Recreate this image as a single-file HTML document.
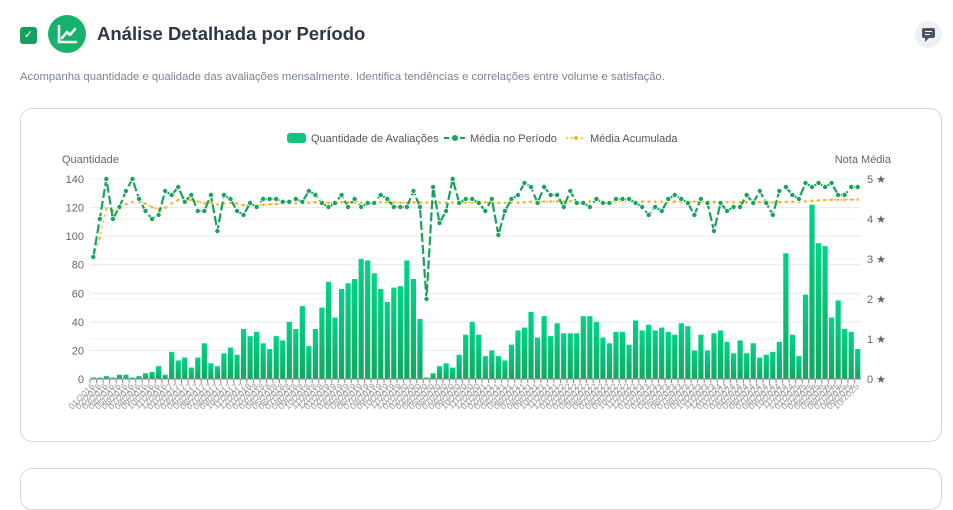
<!DOCTYPE html>
<html><head><meta charset="utf-8">
<style>
body{margin:0;width:953px;height:481px;overflow:hidden;background:#fff;font-family:"Liberation Sans",sans-serif;position:relative}
.abs{position:absolute}
</style></head><body>
<div class="abs" style="left:20px;top:27px;width:17px;height:17px;background:#15a05e;border-radius:3px;color:#fff;font-size:11px;text-align:center;line-height:17px">✓</div>
<div class="abs" style="left:48px;top:15px;width:38px;height:38px;border-radius:50%;background:#17b36c">
<svg width="38" height="38" viewBox="0 0 38 38"><path d="M11 11 V27 H28" stroke="#fff" stroke-width="2.5" fill="none" stroke-linecap="round"/><path d="M14 23 L19 17 L22 20 L27 14" stroke="#fff" stroke-width="2.5" fill="none" stroke-linecap="round" stroke-linejoin="round"/></svg></div>
<div class="abs" style="left:97px;top:23px;font-size:18.5px;font-weight:bold;color:#2d3748">Análise Detalhada por Período</div>
<div class="abs" style="left:915px;top:21px;width:27px;height:27px;border-radius:50%;background:#eef0f3">
<svg width="27" height="27"><rect x="7" y="7" width="13" height="10" rx="2" fill="#4a5568"/><path d="M10 17 L10 21 L14 17Z" fill="#4a5568"/><line x1="10" y1="10.5" x2="17" y2="10.5" stroke="#fff"/><line x1="10" y1="13.5" x2="15" y2="13.5" stroke="#fff"/></svg></div>
<div class="abs" style="left:20px;top:71px;font-size:11.3px;color:#7a8494">Acompanha quantidade e qualidade das avaliações mensalmente. Identifica tendências e correlações entre volume e satisfação.</div>
<div class="abs" style="left:20px;top:108px;width:920px;height:332px;border:1px solid #d4d8de;border-radius:12px"></div>
<div class="abs" style="left:20px;top:468px;width:920px;height:40px;border:1px solid #d4d8de;border-radius:12px"></div>
<svg id="chart" class="abs" style="left:0;top:0" width="953" height="481"></svg>
<script>
const counts=[1,1,2,1,3,3,1,2,4,5,9,3,19,13,15,8,15,25,11,9,18,22,17,35,30,33,25,21,30,27,40,35,51,23,35,50,68,43,63,67,70,84,83,74,63,54,64,65,83,70,42,1,4,9,11,8,17,31,40,31,16,20,16,13,24,34,36,47,29,44,30,39,32,32,32,44,44,40,29,25,33,33,24,41,34,38,34,36,33,31,39,37,20,31,20,32,34,26,18,27,18,25,15,17,19,26,88,31,16,59,122,95,93,43,55,35,33,21];
const ratings=[3.05,4.0,5.0,4.0,4.3,4.7,5.0,4.5,4.2,4.0,4.1,4.7,4.6,4.8,4.43,4.6,4.2,4.2,4.6,3.7,4.6,4.5,4.2,4.1,4.4,4.3,4.5,4.5,4.5,4.43,4.43,4.5,4.43,4.7,4.6,4.4,4.3,4.4,4.6,4.3,4.5,4.3,4.4,4.4,4.6,4.5,4.3,4.3,4.3,4.7,4.3,2.0,4.8,3.9,4.2,5.0,4.4,4.5,4.5,4.4,4.2,4.5,3.6,4.2,4.5,4.6,4.9,4.8,4.4,4.8,4.6,4.6,4.3,4.7,4.4,4.4,4.3,4.5,4.4,4.4,4.5,4.5,4.5,4.4,4.3,4.1,4.3,4.2,4.5,4.6,4.5,4.4,4.1,4.5,4.4,3.7,4.4,4.2,4.3,4.3,4.6,4.4,4.7,4.4,4.1,4.7,4.8,4.6,4.5,4.9,4.8,4.9,4.8,4.9,4.6,4.6,4.8,4.8];
const leftTicks=[0,20,40,60,80,100,120,140];
const rightTicks=[0,1,2,3,4,5];
const months=[];
for(let i=0;i<counts.length;i++){const m=(i%12)+1,y=2016+Math.floor(i/12);months.push((m<10?'0':'')+m+'/'+y);}
const NS='http://www.w3.org/2000/svg';
const svg=document.getElementById('chart');
const X0=90,X1=861,Y0=379,YT=179;
const n=counts.length,bw=(X1-X0)/n;
const xc=i=>X0+bw*(i+0.5);
const yl=v=>Y0-(v/140)*(Y0-YT);
const yr=v=>Y0-(v/5)*(Y0-YT);
function el(t,a,txt){const e=document.createElementNS(NS,t);for(const k in a)e.setAttribute(k,a[k]);if(txt!=null)e.textContent=txt;svg.appendChild(e);return e;}
const defs=el('defs',{});
defs.innerHTML='<linearGradient id="bg" x1="0" y1="0" x2="0" y2="1"><stop offset="0" stop-color="#00d487"/><stop offset="1" stop-color="#10a862"/></linearGradient>';
leftTicks.forEach(t=>{const g=el('line',{x1:X0,x2:X1,y1:yl(t),y2:yl(t),stroke:'#e6e9ef'});

const tx=el('text',{x:84,y:yl(t)+4,'text-anchor':'end','font-size':11,fill:'#666'},t);
});
rightTicks.forEach(t=>{const g=el('line',{x1:X0,x2:X1,y1:yr(t),y2:yr(t),stroke:'#eef0f4'});

const tx=el('text',{x:867,y:yr(t)+4,'font-size':11,fill:'#666'},t+' ★');
});
let a=el('text',{x:62,y:163,'font-size':11,fill:'#666'},'Quantidade');
a=el('text',{x:891,y:163,'font-size':11,fill:'#666','text-anchor':'end'},'Nota Média');
counts.forEach((v,i)=>{const r=el('rect',{x:xc(i)-2.6,y:yl(v),width:5.2,height:Y0-yl(v),fill:'url(#bg)'});
});
el('line',{x1:X0,x2:X1,y1:Y0,y2:Y0,stroke:'#888'});
months.forEach((m,i)=>{el('line',{x1:X0+bw*i,x2:X0+bw*i,y1:Y0,y2:Y0+4,stroke:'#888'});
const t=el('text',{x:xc(i)+2,y:Y0+8,'font-size':9,fill:'#999','text-anchor':'end',transform:`rotate(-45 ${xc(i)+2} ${Y0+8})`},m);
});
const cum=[];let s=0,c=0;counts.forEach((v,i)=>{s+=v*ratings[i];c+=v;cum.push(s/c);});
let p=el('polyline',{points:cum.map((v,i)=>xc(i)+','+yr(v)).join(' '),fill:'none',stroke:'#f5b325','stroke-width':1.5,'stroke-dasharray':'2,4'});

cum.forEach((v,i)=>{const d=el('circle',{cx:xc(i),cy:yr(v),r:1.3,fill:'#f5b325'});});
p=el('polyline',{points:ratings.map((v,i)=>xc(i)+','+yr(v)).join(' '),fill:'none',stroke:'#16a35e','stroke-width':2.2,'stroke-dasharray':'9,3'});

ratings.forEach((v,i)=>{const d=el('circle',{cx:xc(i),cy:yr(v),r:2.6,fill:'#16a35e',stroke:'#fff','stroke-width':0.8});
});
let g=el('rect',{x:287,y:133,width:19,height:10,rx:3,fill:'#0fc77a'});
g=el('text',{x:311,y:142,'font-size':11,fill:'#555'},'Quantidade de Avaliações');
el('line',{x1:444,x2:466,y1:138,y2:138,stroke:'#16a35e','stroke-width':2,'stroke-dasharray':'5,3'});
el('circle',{cx:455,cy:138,r:3,fill:'#16a35e'});
g=el('text',{x:470,y:142,'font-size':11,fill:'#555'},'Média no Período');
el('line',{x1:566,x2:586,y1:138,y2:138,stroke:'#f5b325','stroke-width':1.5,'stroke-dasharray':'2,3'});
el('circle',{cx:576,cy:138,r:2,fill:'#f5b325'});
g=el('text',{x:590,y:142,'font-size':11,fill:'#555'},'Média Acumulada');
</script>
</body></html>
